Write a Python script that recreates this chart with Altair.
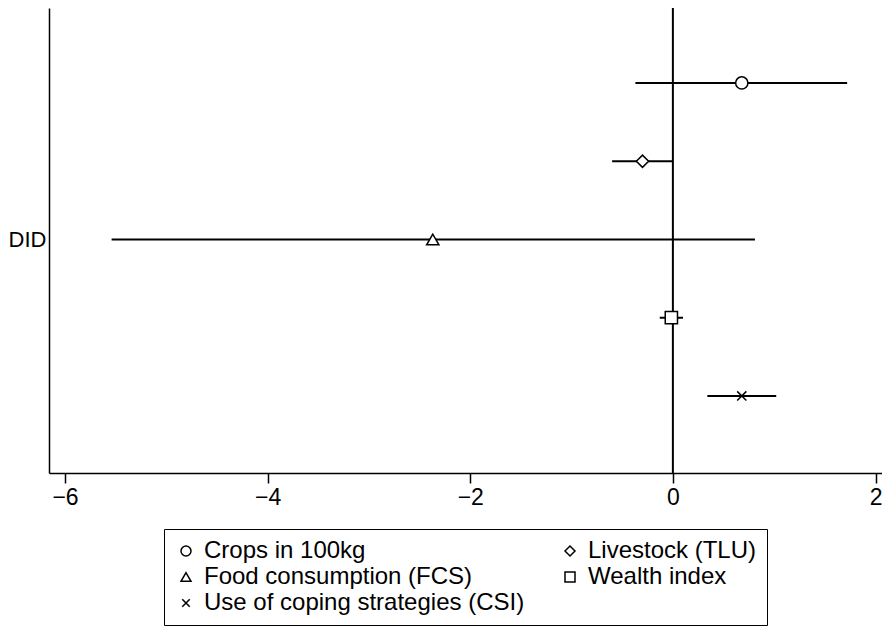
import altair as alt
import pandas as pd

# ---- data ----
series = ["Crops in 100kg", "Livestock (TLU)", "Food consumption (FCS)",
          "Wealth index", "Use of coping strategies (CSI)"]
coef = [0.68, -0.30, -2.37, -0.015, 0.68]
ci_low = [-0.37, -0.60, -5.54, -0.13, 0.34]
ci_high = [1.72, 0.00, 0.81, 0.10, 1.02]
row_label = "DID"
x_ticks = [-6, -4, -2, 0, 2]

shapes = ["circle", "diamond", "triangle-up", "square",
          "M-0.75,-0.75L0.75,0.75M-0.75,0.75L0.75,-0.75"]

df = pd.DataFrame({"series": series, "coef": coef, "lo": ci_low, "hi": ci_high})
df["pos"] = range(1, len(df) + 1)
zero = pd.DataFrame({"x": [0]})

FONT = "Liberation Sans"

xscale = alt.Scale(domain=[-6.158, 2.064], nice=False, zero=False)
yscale = alt.Scale(domain=[0.042, 5.984], reverse=True, nice=False, zero=False)

xaxis = alt.Axis(values=x_ticks, title=None, grid=False, tickSize=10,
                 labelFontSize=23, labelFont=FONT, labelColor="black",
                 labelPadding=3, domainColor="black", tickColor="black",
                 domainWidth=1.5, tickWidth=1.5)
yaxis = alt.Axis(values=[3], labelExpr=f"'{row_label}'", title=None, grid=False,
                 ticks=False, labelFontSize=22, labelFont=FONT, labelColor="black",
                 labelPadding=3, domainColor="black", domainWidth=1.5)

zero_line = alt.Chart(zero).mark_rule(color="black", strokeWidth=2).encode(
    x=alt.X("x:Q", scale=xscale, axis=xaxis)
)

ci = alt.Chart(df).mark_rule(color="black", strokeWidth=2).encode(
    x=alt.X("lo:Q", scale=xscale, axis=xaxis),
    x2="hi:Q",
    y=alt.Y("pos:Q", scale=yscale, axis=yaxis),
)

pts = alt.Chart(df).mark_point(stroke="black", fill="white", filled=True,
                               strokeWidth=1.5, size=150, opacity=1).encode(
    x=alt.X("coef:Q", scale=xscale, axis=xaxis),
    y=alt.Y("pos:Q", scale=yscale, axis=yaxis),
    shape=alt.Shape("series:N", scale=alt.Scale(domain=series, range=shapes),
                    legend=alt.Legend(title=None, orient="none", legendX=115,
                                      legendY=521, columns=2, direction="horizontal",
                                      padding=10, rowPadding=2, columnPadding=33,
                                      labelFontSize=24, labelFont=FONT,
                                      labelColor="black", labelLimit=500,
                                      labelOffset=6,
                                      strokeColor="black", fillColor="white",
                                      cornerRadius=0)),
)

chart = alt.layer(zero_line, ci, pts).properties(
    width=833, height=465,
    padding={"left": 41, "top": 0, "right": 0, "bottom": 157},
    autosize=alt.AutoSizeParams(type="none"),
    background="white",
).configure_view(stroke=None)

chart.save("out.html", embed_options={"renderer": "svg", "actions": False})
